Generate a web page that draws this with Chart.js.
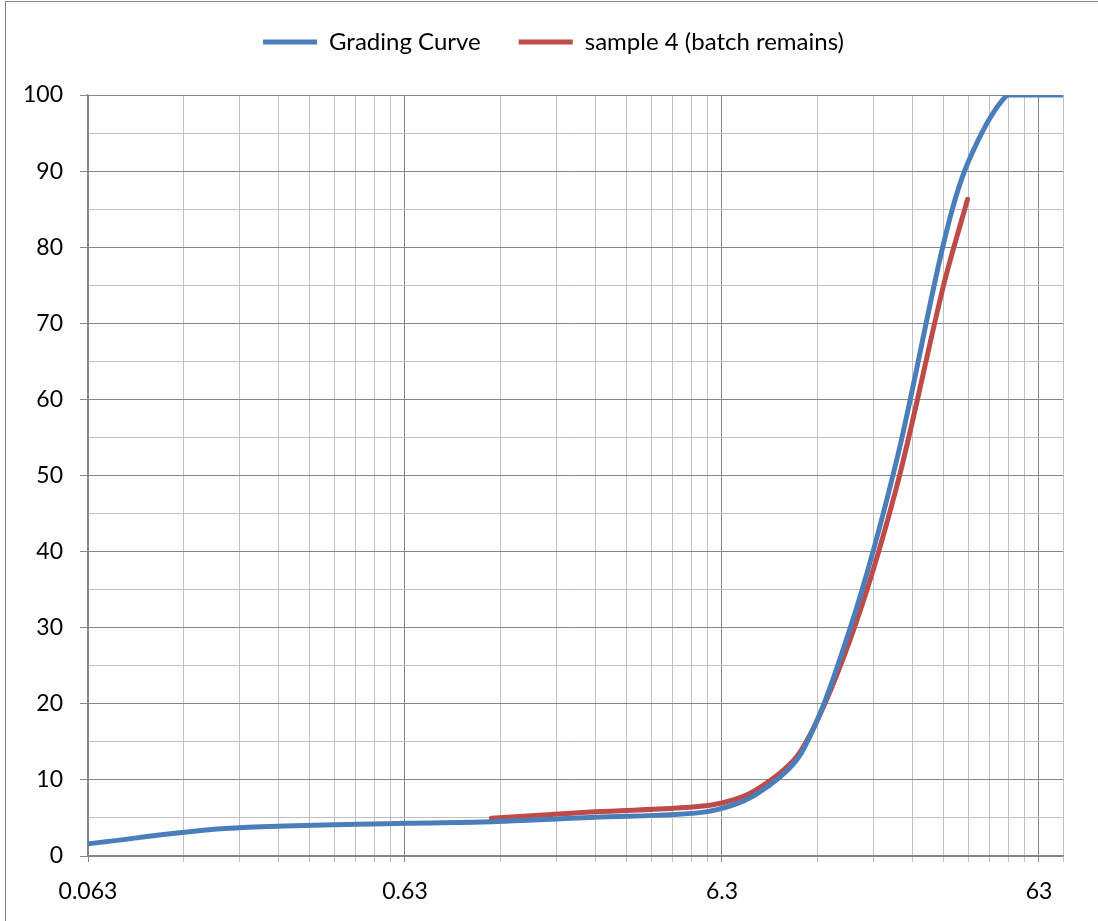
<!DOCTYPE html>
<html>
<head>
<meta charset="utf-8">
<script src="https://cdn.jsdelivr.net/npm/chart.js@4.4.1/dist/chart.umd.min.js"></script>
<style>
  html, body { margin: 0; padding: 0; background: #fff; }
  canvas { display: block; }
</style>
</head>
<body>
<canvas id="grading-chart" width="1098" height="921"></canvas>
<script>
// sieve sizes (mm) and % passing
const blueSize = [0.063, 0.17, 0.63, 1.18, 2.5, 5.6, 8, 11.2, 16, 22.4, 31.5, 37.5, 50, 63, 75];
const bluePassing = [1.6, 3.6, 4.3, 4.5, 5.1, 5.8, 8.0, 13.5, 30, 52, 80.5, 91, 100, 100, 100];

const redSize = [1.18, 2.5, 5.85, 8, 11.2, 16, 22.4, 31.5, 37.5];
const redPassing = [4.95, 5.8, 6.7, 8.6, 13.9, 28.5, 48.5, 75, 86.3];

const xMajors = [0.063, 0.63, 6.3, 63];
const xTickLabels = ['0.063', '0.63', '6.3', '63'];

const majorGrid = '#868686';
const minorGrid = '#c0c0c0';

function toPoints(xs, ys) {
    return xs.map((x, i) => ({ x: x, y: ys[i] }));
}

function majorIndex(v) {
    return xMajors.findIndex(m => Math.abs(v / m - 1) < 1e-6);
}

const frame = {
    id: 'frame',
    beforeDraw(chart) {
        const c = chart.ctx;
        c.save();
        c.fillStyle = '#fff';
        c.fillRect(0, 0, chart.width, chart.height);
        c.strokeStyle = majorGrid;
        c.lineWidth = 1;
        c.strokeRect(5.5, 1.5, chart.width, chart.height);
        c.restore();
    }
};

// legend sits high and a bit right, plot starts at y=95
const legendSpot = {
    id: 'legendSpot',
    beforeLayout(chart) {
        const lg = chart.legend;
        if (lg && !lg.patched) {
            const fit = lg.fit;
            lg.fit = function () {
                fit.call(this);
                this.height = 95;
            };
            lg.patched = true;
        }
    },
    afterLayout(chart) {
        const lg = chart.legend;
        lg.top = 42 - 12 - lg.options.labels.padding;
        lg.left += 22;
        lg.right += 22;
    }
};

Chart.defaults.font.family = 'Lato';
Chart.defaults.color = '#000';

new Chart(document.getElementById('grading-chart'), {
    type: 'line',
    data: {
        datasets: [{
            label: 'Grading Curve',
            data: toPoints(blueSize, bluePassing),
            borderColor: '#4A7EBB',
            backgroundColor: '#4A7EBB',
            borderWidth: 5,
            borderCapStyle: 'round',
            pointRadius: 0,
            tension: 0.3,
            clip: 0
        }, {
            label: 'sample 4 (batch remains)',
            data: toPoints(redSize, redPassing),
            borderColor: '#BE4B48',
            backgroundColor: '#BE4B48',
            borderWidth: 5,
            borderCapStyle: 'round',
            pointRadius: 0,
            tension: 0.3,
            clip: 0
        }]
    },
    options: {
        responsive: false,
        animation: false,
        layout: { padding: { left: 0, right: 35, top: 0, bottom: 0 } },
        plugins: {
            legend: {
                position: 'top',
                labels: {
                    usePointStyle: true,
                    pointStyle: 'line',
                    pointStyleWidth: 54,
                    padding: 38,
                    font: { size: 24 },
                    color: '#000'
                }
            },
            tooltip: { enabled: false }
        },
        scales: {
            x: {
                type: 'logarithmic',
                min: 0.063,
                max: 75,
                afterBuildTicks(scale) {
                    const ticks = [];
                    for (let n = 0; n < 4; n++) {
                        for (let k = 1; k <= 9; k++) {
                            const v = 0.063 * k * Math.pow(10, n);
                            if (v <= 75.0001) ticks.push({ value: v });
                        }
                    }
                    ticks.push({ value: 75 });
                    scale.ticks = ticks;
                },
                afterFit(scale) { scale.height = 65; },
                ticks: {
                    autoSkip: false,
                    maxRotation: 0,
                    minRotation: 0,
                    padding: 16,
                    font: { size: 23 },
                    callback(value) {
                        const i = majorIndex(value);
                        return i >= 0 ? xTickLabels[i] : '';
                    }
                },
                grid: {
                    color: ctx => majorIndex(ctx.tick.value) >= 0 ? majorGrid : minorGrid,
                    tickColor: ctx => majorIndex(ctx.tick.value) >= 0 ? majorGrid : minorGrid,
                    tickLength: 6,
                    lineWidth: 1
                },
                border: { color: majorGrid, width: 1.5 }
            },
            y: {
                min: 0,
                max: 100,
                afterFit(scale) { scale.width = 88; },
                ticks: {
                    stepSize: 5,
                    padding: 17,
                    font: { size: 23 },
                    callback(value) {
                        return value % 10 === 0 ? String(value) : '';
                    }
                },
                grid: {
                    color: ctx => ctx.tick.value % 10 === 0 ? majorGrid : minorGrid,
                    tickColor: ctx => ctx.tick.value % 10 === 0 ? majorGrid : 'rgba(0,0,0,0)',
                    tickLength: 8,
                    lineWidth: 1
                },
                border: { color: majorGrid, width: 1.5 }
            }
        }
    },
    plugins: [frame, legendSpot]
});
</script>
</body>
</html>
